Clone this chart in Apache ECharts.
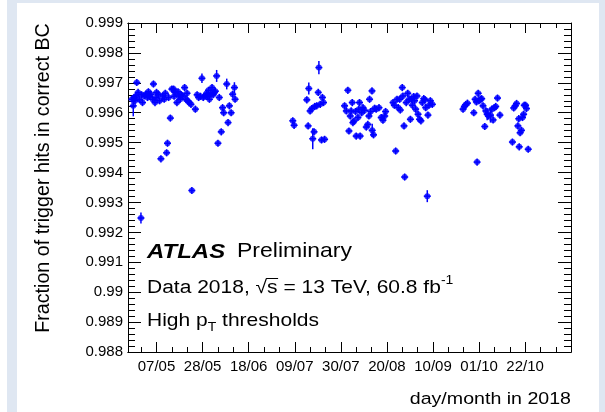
<!DOCTYPE html>
<html><head><meta charset="utf-8">
<script src="https://cdn.jsdelivr.net/npm/echarts@6/dist/echarts.min.js"></script>
<style>html,body{margin:0;padding:0;background:#fff}#c{width:605px;height:412px}</style>
</head><body><div id="c"></div>
<script>
// x = day of year 2018 (1 = 1 Jan), y = fraction of trigger hits in correct BC
const dayOfYear = [
 115.8,116.4,116.8,117.2,117.6,118.0,118.6,119.1,119.9,120.2,120.6,121.4,122.1,122.9,123.3,123.7,124.4,125.2,125.6,126.3,126.8,127.0,127.8,128.4,129.0,129.8,130.5,131.0,131.6,132.0,132.5,133.3,134.0,134.8,135.0,135.5,136.3,136.8,137.1,137.8,138.3,138.9,139.8,140.4,140.9,141.2,141.9,142.7,143.1,144.7,145.5,146.2,147.0,147.7,148.3,149.2,149.8,150.3,150.7,151.1,151.8,152.3,152.8,153.3,153.8,154.4,155.0,155.6,156.5,157.1,157.6,159.0,159.6,160.2,161.0,161.7,162.5,162.8,
 189.1,189.7,195.5,196.1,196.4,197.0,197.8,198.2,198.8,199.1,200.0,200.7,201.0,201.6,202.2,202.6,203.1,203.6,
 212.7,213.5,214.2,214.7,215.3,215.7,216.2,216.5,217.0,217.7,218.0,218.8,219.2,219.5,219.8,220.5,221.1,221.8,222.6,223.3,223.8,224.1,224.6,225.2,225.3,225.9,226.4,227.1,228.4,229.4,230.2,231.0,231.4,
 234.8,235.4,236.0,236.6,237.2,237.8,238.1,239.0,239.3,239.8,240.1,240.8,241.5,242.1,242.7,243.1,243.6,244.2,244.6,245.1,245.7,246.2,246.9,247.5,248.1,248.8,249.4,249.7,250.4,250.7,251.2,251.8,252.7,
 266.7,267.3,267.9,268.7,271.6,272.2,272.8,273.1,273.6,274.0,274.6,275.2,275.8,276.6,277.1,277.7,278.3,279.2,279.8,280.4,281.0,281.6,282.4,283.5,
 289.2,289.8,290.5,291.1,291.7,292.1,292.3,292.7,293.3,293.8,294.3,294.6,295.2,295.6,296.4
];
const fraction = [
 0.99645,0.99623,0.99651,0.99640,0.99656,0.99701,0.99668,0.99645,0.99248,0.99660,0.99634,0.99656,0.99662,0.99651,0.99670,0.99656,0.99662,0.99645,0.99696,0.99634,0.99650,0.99668,0.99662,0.99640,0.99446,0.99656,0.99645,0.99665,0.99466,0.99498,0.99651,0.99582,0.99679,0.99679,0.99655,0.99668,0.99634,0.99670,0.99656,0.99645,0.99660,0.99656,0.99684,0.99645,0.99665,0.99640,0.99634,0.99628,0.99340,0.99612,0.99660,0.99651,0.99655,0.99715,0.99651,0.99656,0.99665,0.99656,0.99675,0.99645,0.99662,0.99684,0.99660,0.99668,0.99672,0.99723,0.99498,0.99651,0.99536,0.99617,0.99600,0.99696,0.99567,0.99623,0.99600,0.99662,0.99684,0.99645,
 0.99573,0.99558,0.99643,0.99556,0.99681,0.99606,0.99614,0.99513,0.99536,0.99621,0.99623,0.99668,0.99751,0.99628,0.99509,0.99651,0.99634,0.99511,
 0.99623,0.99606,0.99675,0.99539,0.99589,0.99606,0.99634,0.99567,0.99572,0.99604,0.99522,0.99584,0.99612,0.99634,0.99522,0.99600,0.99617,0.99608,0.99552,0.99561,0.99589,0.99645,0.99604,0.99673,0.99541,0.99526,0.99615,0.99612,0.99617,0.99584,0.99575,0.99589,0.99604,
 0.99634,0.99625,0.99472,0.99645,0.99617,0.99645,0.99609,0.99684,0.99656,0.99556,0.99385,0.99634,0.99665,0.99645,0.99578,0.99645,0.99625,0.99654,0.99640,0.99612,0.99656,0.99595,0.99578,0.99573,0.99634,0.99647,0.99643,0.99617,0.99321,0.99592,0.99625,0.99640,0.99628,
 0.99612,0.99621,0.99627,0.99632,0.99600,0.99645,0.99636,0.99435,0.99665,0.99640,0.99645,0.99647,0.99623,0.99554,0.99606,0.99595,0.99589,0.99592,0.99612,0.99576,0.99617,0.99621,0.99649,0.99592,
 0.99502,0.99616,0.99623,0.99631,0.99556,0.99580,0.99486,0.99533,0.99541,0.99584,0.99595,0.99625,0.99625,0.99614,0.99478
];
const fractionError = dayOfYear.map(() => 0.00012);
// larger uncertainties
const largeErrors = {1:0.00035, 8:0.00018, 53:0.00016, 65:0.0002, 71:0.00018, 76:0.00018,
  82:0.0002, 85:0.00035, 90:0.00022, 120:0.00022, 157:0.0002, 177:0.0002, 179:0.00025, 201:0.0003};
Object.keys(largeErrors).forEach(k => { fractionError[+k] = largeErrors[k]; });

const majorTickDays = [127,148,169,190,211,232,253,274,295];
const majorTickLabels = ['07/05','28/05','18/06','09/07','30/07','20/08','10/09','01/10','22/10'];
const minorTickDays = [120,134,141,155,162,176,183,197,204,218,225,239,246,260,267,281,288,302,309];
const xMin = 114.0, xMax = 315.9;
const yMin = 0.988, yMax = 0.999, yStep = 0.001;

const FONT = '"Liberation Sans", Arial, Helvetica, sans-serif';
const data = dayOfYear.map((d, i) => [d, fraction[i], fractionError[i]]);

function xAxisDef(pos, ticks, len, labels) {
  return {
    type: 'value', position: pos, min: xMin, max: xMax,
    axisLine: {show: true, onZero: false, lineStyle: {color: '#000', width: 1}},
    splitLine: {show: false},
    axisTick: {show: true, inside: true, length: len, customValues: ticks, lineStyle: {color: '#000', width: 1}},
    axisLabel: labels ? {show: true, customValues: majorTickDays, margin: 7, color: '#000', fontSize: 15, fontFamily: FONT,
      formatter: v => majorTickLabels[majorTickDays.indexOf(v)] || ''} : {show: false}
  };
}
function yAxisDef(pos, labels) {
  return {
    type: 'value', position: pos, min: yMin, max: yMax, interval: yStep,
    axisLine: {show: true, onZero: false, lineStyle: {color: '#000', width: 1}},
    splitLine: {show: false},
    axisTick: {show: true, inside: true, length: 13, lineStyle: {color: '#000', width: 1}},
    minorTick: {show: true, splitNumber: 5, length: 7, lineStyle: {color: '#000', width: 1}},
    axisLabel: labels ? {show: true, margin: 5, color: '#000', fontSize: 15, fontFamily: FONT,
      formatter: v => String(+v.toFixed(3))} : {show: false}
  };
}

// measure text for the sqrt overline
const mctx = document.createElement('canvas').getContext('2d');
const DATA_FONT = '21px ' + FONT;
mctx.font = DATA_FONT;
const preW = mctx.measureText('Data 2018, √').width;
const sW = mctx.measureText('s').width;

const chart = echarts.init(document.getElementById('c'), null, {renderer: 'canvas'});
chart.setOption({
  backgroundColor: '#fff',
  animation: false,
  grid: {left: 128, right: 34, top: 23, bottom: 60, show: false},
  xAxis: [xAxisDef('bottom', majorTickDays, 10, true), xAxisDef('bottom', minorTickDays, 5, false),
          xAxisDef('top', majorTickDays, 10, false), xAxisDef('top', minorTickDays, 5, false)],
  yAxis: [yAxisDef('left', true), yAxisDef('right', false)],
  series: [
    {
      type: 'custom', xAxisIndex: 0, yAxisIndex: 0, data: data, z: 2,
      renderItem: function (params, api) {
        const x = api.value(0), v = api.value(1), e = api.value(2);
        const t = api.coord([x, v + e]), b = api.coord([x, v - e]), c = api.coord([x, v]);
        return {type: 'group', children: [
          {type: 'line', shape: {x1: t[0], y1: t[1], x2: b[0], y2: b[1]}, style: {stroke: '#0000ff', lineWidth: 1.5}},
          {type: 'line', shape: {x1: c[0] - 3.5, y1: c[1], x2: c[0] + 3.5, y2: c[1]}, style: {stroke: '#0000ff', lineWidth: 1.5}}
        ]};
      }
    },
    {
      type: 'scatter', xAxisIndex: 0, yAxisIndex: 0, z: 3,
      data: data.map(p => [p[0], p[1]]), symbol: 'circle', symbolSize: 6,
      itemStyle: {color: '#0000ff'}
    }
  ],
  graphic: [
    {type: 'rect', shape: {x: 7, y: 0, width: 10, height: 412}, style: {fill: '#dfe7f2'}, silent: true},
    {type: 'rect', shape: {x: 7, y: 0, width: 598, height: 3}, style: {fill: '#dfe7f2'}, silent: true},
    {type: 'rect', shape: {x: 599, y: 0, width: 6, height: 412}, style: {fill: '#dfe7f2'}, silent: true},
    {type: 'text', x: 44, y: 178, rotation: Math.PI / 2,
      style: {text: 'Fraction of trigger hits in correct BC', font: '19.7px ' + FONT, fill: '#000', align: 'center', verticalAlign: 'middle'}},
    {type: 'text', x: 571, y: 399, scaleY: 0.86,
      style: {text: 'day/month in 2018', font: '19.6px ' + FONT, fill: '#000', align: 'right', verticalAlign: 'middle'}},
    {type: 'text', x: 147, y: 252, scaleY: 0.84,
      style: {text: 'ATLAS', font: 'italic bold 24px ' + FONT, fill: '#000', align: 'left', verticalAlign: 'middle'}},
    {type: 'text', x: 237, y: 252, scaleY: 0.84,
      style: {text: 'Preliminary', font: '23px ' + FONT, fill: '#000', align: 'left', verticalAlign: 'middle'}},
    {type: 'text', x: 147, y: 287.5, scaleY: 0.87,
      style: {text: '{a|Data 2018, √s = 13 TeV, 60.8 fb}{s|-1}', fill: '#000', align: 'left', verticalAlign: 'middle',
        rich: {a: {font: DATA_FONT, fill: '#000', verticalAlign: 'middle'},
               s: {font: '14px ' + FONT, fill: '#000', verticalAlign: 'top', padding: [0,0,16,0]}}}},
    {type: 'line', shape: {x1: 147 + preW - 1, y1: 278.5, x2: 147 + preW + sW + 0.5, y2: 278.5}, style: {stroke: '#000', lineWidth: 1}, silent: true},
    {type: 'text', x: 147, y: 320.5, scaleY: 0.87,
      style: {text: '{a|High p}{s|T}{a| thresholds}', fill: '#000', align: 'left', verticalAlign: 'middle',
        rich: {a: {font: '21px ' + FONT, fill: '#000', verticalAlign: 'middle'},
               s: {font: '14px ' + FONT, fill: '#000', verticalAlign: 'bottom', padding: [16,0,0,0]}}}}
  ]
});
</script></body></html>
